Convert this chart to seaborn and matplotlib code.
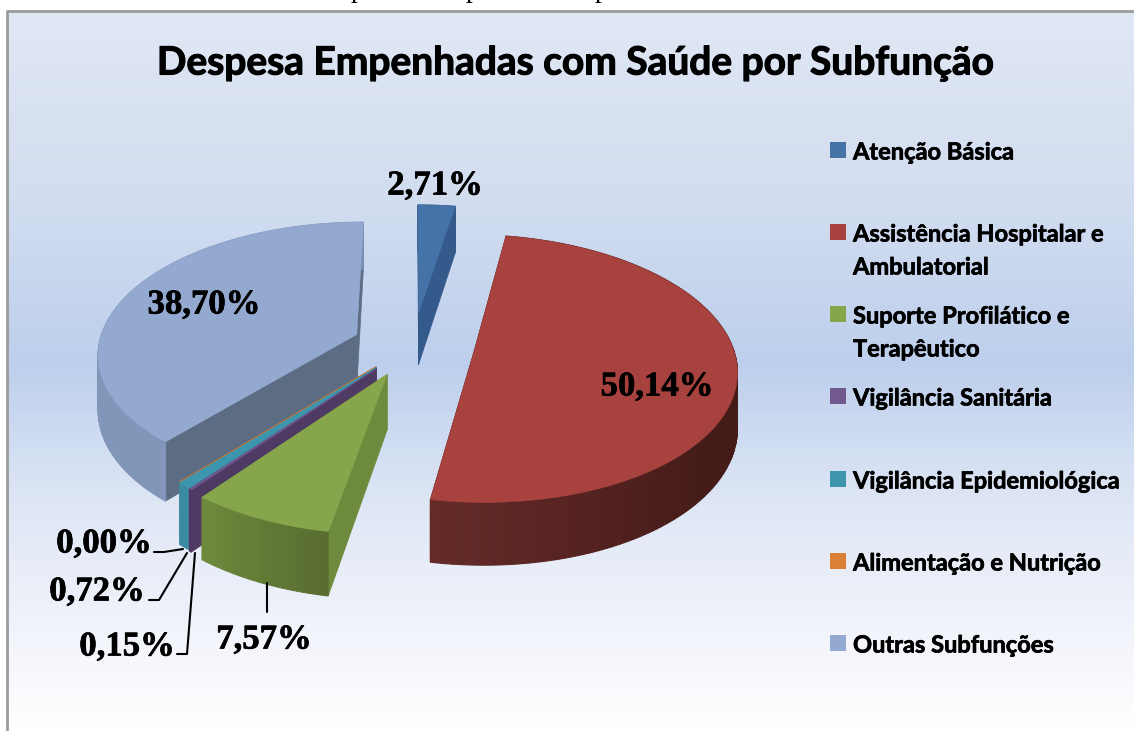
import matplotlib
matplotlib.use("Agg")
import matplotlib.pyplot as plt
import matplotlib.patheffects as pe
from matplotlib.patches import Polygon
from matplotlib.colors import LinearSegmentedColormap
import numpy as np
import seaborn as sns

# data
categories = ["Atenção Básica", "Assistência Hospitalar e\nAmbulatorial",
              "Suporte Profilático e\nTerapêutico", "Vigilância Sanitária",
              "Vigilância Epidemiológica", "Alimentação e Nutrição", "Outras Subfunções"]
values = [2.71, 50.14, 7.57, 0.15, 0.72, 0.00, 38.70]
value_labels = ["2,71%", "50,14%", "7,57%", "0,15%", "0,72%", "0,00%", "38,70%"]
title = "Despesa Empenhadas com Saúde por Subfunção"

# styles
explode = [0.26, 0.24, 0.24, 0.225, 0.22, 0.215, 0.235]
top_colors = ["#4573A7", "#A8423F", "#87A64C", "#71588F", "#3D96AE", "#DA8137", "#93A9CF"]
radial_colors = ["#335A8A", "#4A1C1A", "#6E8A3C", "#4F3A63", "#3A93AC", "#B06A30", "#5C6C82"]
arc_colors = [["#335A8A", "#335A8A"],
              ["#642A28", "#451B18", "#451B18", "#4A1C1A"],
              ["#6E8A3C", "#586C30"],
              ["#4F3A63", "#4F3A63"],
              ["#3A8BA2", "#3A8BA2"],
              ["#B06A30", "#B06A30"],
              ["#7D90B3", "#8296BA", "#8296BA"]]
draw_order = [0, 6, 5, 4, 3, 2, 1]

label_pos = [(435, 186), (657, 387), (264, 640), (127, 647), (97, 592), (104, 544), (204, 305)]
leaders = [([267, 267], [583, 612]),
           ([177, 187, 195], [654, 654, 553]),
           ([149, 159, 187], [600, 600, 553]),
           ([154, 164, 183], [552, 552, 549])]
bg_stops = [(0.0, "#E0E7F4"), (0.26, "#D2DDF0"), (0.49, "#BDCFEC"), (0.68, "#DEE6F5"),
            (0.84, "#EFF2FA"), (1.0, "#FFFFFF")]

# projection of the pie disc on to the picture (pixels)
CX, CY = 413, 345
RX, RY = 258, 130
PERSP = 0.134
DEPTH = 54


def project(x, y, down=False):
    s = 1 / (1 + PERSP * y)
    return CX + RX * x * s, CY - RY * y * s + (DEPTH * s if down else 0)


sns.set_theme(style="white")
fig = plt.figure(figsize=(11.34, 7.31), dpi=100, facecolor="white")
ax = fig.add_axes([0, 0, 1, 1])

wedges, _ = ax.pie(values, explode=explode, startangle=90, counterclock=False, radius=1)
ax.set_aspect("auto")

geom = [(w.center, w.theta1, w.theta2) for w in wedges]
for w in wedges:
    w.remove()

# panel with vertical gradient
cmap = LinearSegmentedColormap.from_list("panel", bg_stops)
ax.imshow(np.linspace(0, 1, 400)[:, None], cmap=cmap, aspect="auto",
          extent=(7, 1134, 731, 12), zorder=0)
ax.plot([7, 7, 1134], [731, 11, 11], color="#9A9A9A", lw=2, zorder=1)

zo = 2
for i in draw_order:
    (cx, cy), t1, t2 = geom[i]
    th = np.radians(np.linspace(t1, t2, max(int(t2 - t1), 2) + 1))
    xs, ys = cx + np.cos(th), cy + np.sin(th)
    # radial walls
    for xe, ye in [(xs[0], ys[0]), (xs[-1], ys[-1])]:
        quad = [project(cx, cy), project(xe, ye), project(xe, ye, True), project(cx, cy, True)]
        ax.add_patch(Polygon(quad, fc=radial_colors[i], ec=radial_colors[i], lw=0.5, zorder=zo))
        zo += 1
    # outer wall
    shades = sns.blend_palette(arc_colors[i], len(th))
    for j in range(len(th) - 1):
        quad = [project(xs[j], ys[j]), project(xs[j + 1], ys[j + 1]),
                project(xs[j + 1], ys[j + 1], True), project(xs[j], ys[j], True)]
        ax.add_patch(Polygon(quad, fc=shades[j], ec=shades[j], lw=0.8, zorder=zo))
        zo += 1
    # top face
    top = [project(cx, cy)] + [project(x, y) for x, y in zip(xs, ys)]
    ax.add_patch(Polygon(top, fc=top_colors[i], ec=top_colors[i], lw=0.4, zorder=zo))
    zo += 1

for lx, ly in leaders:
    ax.plot(lx, ly, color="black", lw=1.5, zorder=zo)

for txt, (x, y) in zip(value_labels, label_pos):
    ax.text(x, y, txt, ha="center", va="center", family="Liberation Serif",
            weight="bold", fontsize=25, color="black", zorder=zo + 1,
            path_effects=[pe.withStroke(linewidth=0.5, foreground="black")])

ax.text(575, 63, title, ha="center", va="center", family="Lato", weight="bold",
        fontsize=28, color="black", zorder=zo + 1,
        path_effects=[pe.withStroke(linewidth=0.8, foreground="black")])

# cut-off line of the page text above the panel
for x in [358, 473, 602]:
    ax.text(x, -3, "p", ha="center", va="baseline", family="Liberation Serif",
            fontsize=20, color="black", clip_on=True)

# legend
legend_y = [150, 232, 314, 396, 479, 561, 643]
sns.scatterplot(x=[838] * len(categories), y=legend_y, hue=categories, palette=top_colors,
                marker="s", s=130, linewidth=0, legend=False, ax=ax, zorder=zo + 1)
for name, y in zip(categories, legend_y):
    for k, line in enumerate(name.split("\n")):
        ax.text(853, y + 2 + k * 33, line, ha="left", va="center", family="Lato", weight="bold",
                fontsize=17, color="black", zorder=zo + 1,
                path_effects=[pe.withStroke(linewidth=0.5, foreground="black")])

ax.set_xlim(0, 1134)
ax.set_ylim(731, 0)
ax.axis("off")

fig.savefig("out.png", dpi=100)
